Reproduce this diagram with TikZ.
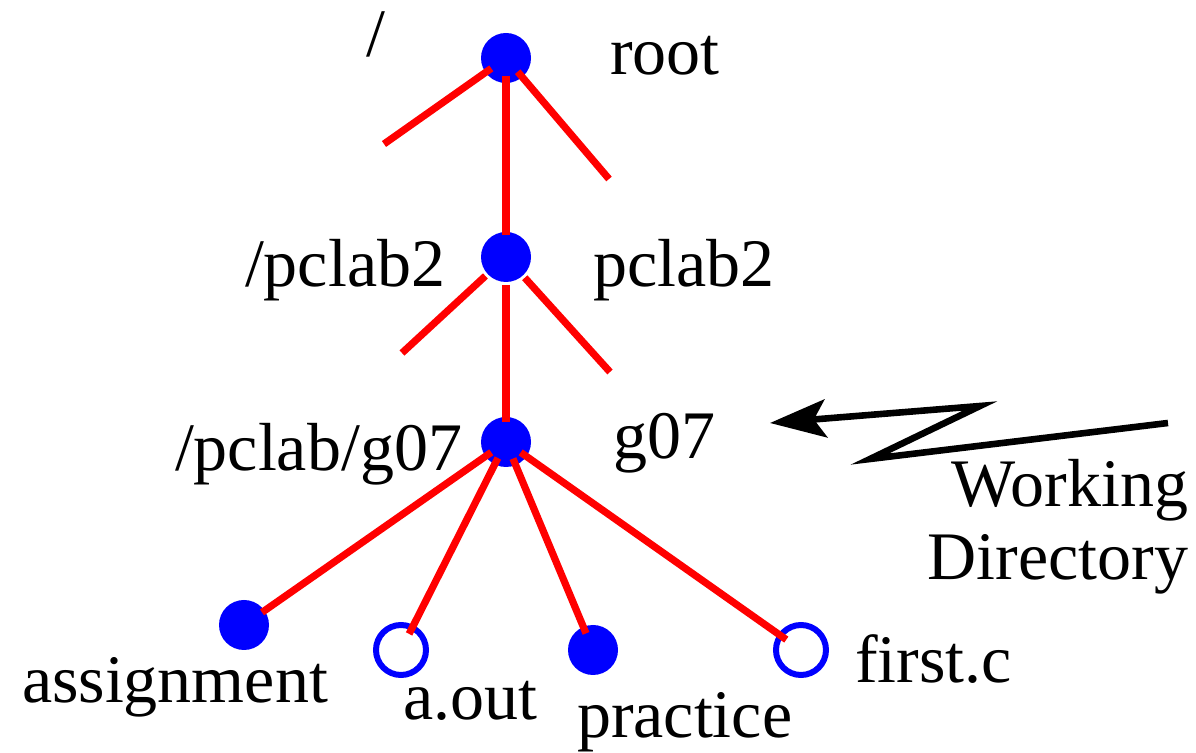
\documentclass[tikz,border=0pt]{standalone}
\usepackage{fontspec}
\setmainfont{Liberation Serif}
\usetikzlibrary{arrows.meta}
\begin{document}
\begin{tikzpicture}[x=0.5pt,y=-0.5pt,
  lbl/.style={inner sep=0pt, outer sep=0pt, font=\rmfamily\fontsize{34}{36.5}\selectfont},
  fulldot/.style={circle, fill=blue, minimum size=25pt, inner sep=0pt},
  opendot/.style={circle, draw=blue, line width=3pt, fill=white, minimum size=25pt, inner sep=0pt},
  branch/.style={red, line width=3.6pt},
  pointer/.style={black, line width=3.3pt, line join=miter, miter limit=20,
    -{Stealth[length=28pt, width=19pt, inset=6pt]}}]
\useasboundingbox (0,0) rectangle (1196,753);

% dots
\node[fulldot] (root) at (506,58) {};
\node[fulldot] (pclab) at (506,257) {};
\node[fulldot] (g) at (506,442) {};
\node[fulldot] (assign) at (244,625) {};
\node[opendot] (aout) at (401,650) {};
\node[fulldot] (practice) at (593,650) {};
\node[opendot] (firstc) at (801,650) {};

% stub ends
\coordinate (rl) at (384,144);
\coordinate (rr) at (609,179);
\coordinate (pl) at (402,353);
\coordinate (pr) at (610,372);

% branches
\draw[branch, shorten <=9pt] (root.center) -- (rl);
\draw[branch, shorten <=9pt] (root.center) -- (rr);
\draw[branch, shorten <=9pt, shorten >=11pt] (root.center) -- (pclab.center);
\draw[branch, shorten <=14pt] (pclab.center) -- (pl);
\draw[branch, shorten <=14pt] (pclab.center) -- (pr);
\draw[branch, shorten <=14pt, shorten >=10pt] (pclab.center) -- (g.center);
\draw[branch, shorten <=9pt, shorten >=11pt] (g.center) -- (assign.center);
\draw[branch, shorten <=9pt, shorten >=9pt] (g.center) -- (aout.center);
\draw[branch, shorten <=9pt, shorten >=9pt] (g.center) -- (practice.center);
\draw[branch, shorten <=9pt, shorten >=9pt] (g.center) -- (firstc.center);

% labels
\node[lbl, anchor=base west] (tslash) at (366,57) {/};
\node[lbl, anchor=base west] (troot) at (610,75) {root};
\node[lbl, anchor=base west] (tpclabl) at (245,287) {/pclab2};
\node[lbl, anchor=base west] (tpclabr) at (593,287) {pclab2};
\node[lbl, anchor=base west] (tgl) at (175,471) {/pclab/g07};
\node[lbl, anchor=base west] (tgr) at (613,459) {g07};
\node[lbl, anchor=base west] (tassign) at (22,703) {assignment};
\node[lbl, anchor=base west] (taout) at (403,720) {a.out};
\node[lbl, anchor=base west] (tpractice) at (577,738) {practice};
\node[lbl, anchor=base west] (tfirstc) at (855,683) {first.c};
\node[lbl, anchor=base east, align=right] (twd) at (1188,580) {Working\\Directory};

% pointer
\coordinate (ps) at (1168,423);
\coordinate (pa) at (870,459);
\coordinate (pb) at (980,406);
\coordinate (ptip) at (770,423);
\draw[pointer] (ps) -- (pa) -- (pb) -- (ptip);
\end{tikzpicture}
\end{document}
